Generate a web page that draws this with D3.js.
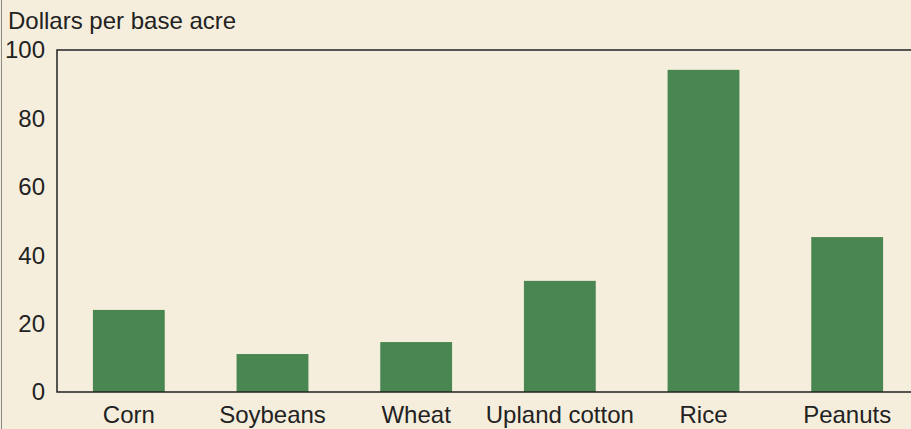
<!DOCTYPE html>
<html>
<head>
<meta charset="utf-8">
<script src="https://cdn.jsdelivr.net/npm/d3@7"></script>
<style>
  body { margin: 0; background: #f6eedd; }
  svg text { font-family: "Liberation Sans", Arial, sans-serif; fill: #222; }
</style>
</head>
<body>
<svg id="chart"></svg>
<script>
const categories = ["Corn", "Soybeans", "Wheat", "Upland cotton", "Rice", "Peanuts"];
const values = [24.0, 11.1, 14.6, 32.5, 94.2, 45.3];
const yTicks = [0, 20, 40, 60, 80, 100];

const width = 911,
	height = 429,
	margin = {top: 50, right: -8, bottom: 37, left: 57};

const svg = d3.select('svg#chart')
	.attr('width', width)
	.attr('height', height);

svg.append('rect')
	.attr('width', width)
	.attr('height', height)
	.attr('fill', '#f6eedd');

// thin page border on the left
svg.append('line')
	.attr('x1', 1.5).attr('x2', 1.5)
	.attr('y1', 0).attr('y2', height)
	.attr('stroke', '#888')
	.attr('stroke-width', 1);

const x = d3.scaleBand()
	.domain(categories)
	.range([margin.left, width - margin.right])
	.paddingInner(0.5)
	.paddingOuter(0.25);

const y = d3.scaleLinear()
	.domain([0, 100])
	.range([height - margin.bottom, margin.top]);

svg.selectAll('rect.bar')
	.data(values)
	.enter().append('rect')
	.classed('bar', true)
	.attr('x', (d, i) => x(categories[i]))
	.attr('width', x.bandwidth())
	.attr('y', d => y(d))
	.attr('height', d => y(0) - y(d))
	.attr('fill', '#4a8651');

// frame: top, left and bottom lines
const frame = svg.append('g')
	.attr('stroke', '#222')
	.attr('stroke-width', 1.5)
	.attr('fill', 'none');
frame.append('path')
	.attr('d', `M${width},${y(100)}H${margin.left}V${y(0)}H${width}`);

// y tick labels
svg.selectAll('text.ytick')
	.data(yTicks)
	.enter().append('text')
	.classed('ytick', true)
	.attr('x', 45)
	.attr('y', d => y(d))
	.attr('dy', '0.35em')
	.attr('text-anchor', 'end')
	.style('font-size', '24px')
	.text(d => d);

// x category labels
svg.selectAll('text.xtick')
	.data(categories)
	.enter().append('text')
	.classed('xtick', true)
	.attr('x', d => x(d) + x.bandwidth() / 2)
	.attr('y', 423)
	.attr('text-anchor', 'middle')
	.style('font-size', '24px')
	.text(d => d);

svg.append('text')
	.attr('x', 8)
	.attr('y', 29)
	.style('font-size', '24px')
	.text('Dollars per base acre');
</script>
</body>
</html>
